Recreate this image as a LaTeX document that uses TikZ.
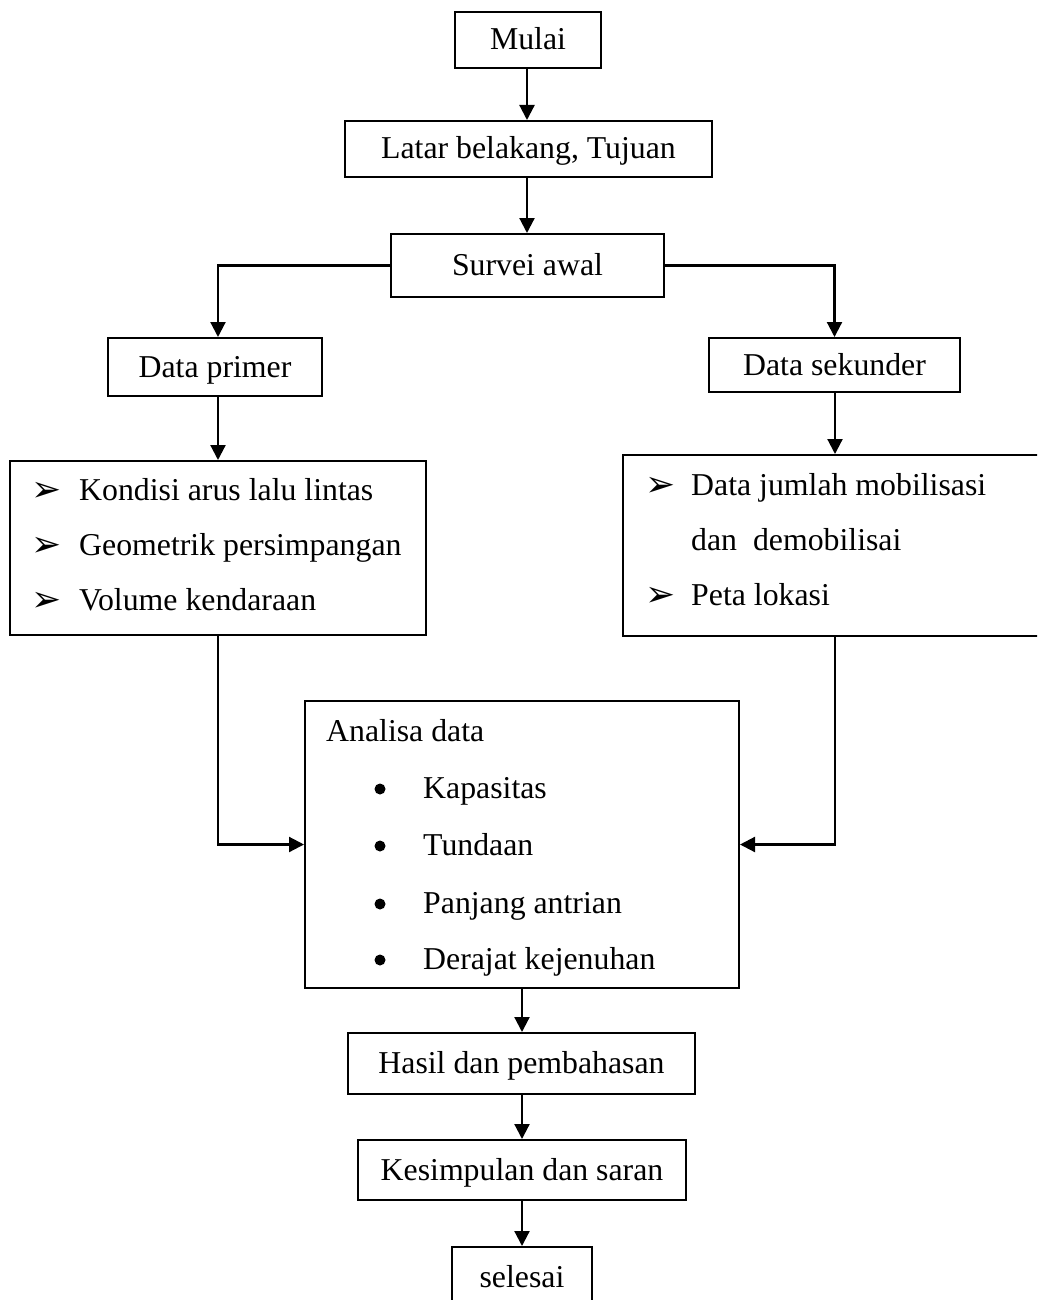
\documentclass[tikz,border=0pt]{standalone}
\usepackage{fontspec}
\setmainfont{Liberation Serif}
\newfontfamily\dingfont{DejaVu Sans}
\usetikzlibrary{arrows.meta}

\begin{document}
\begin{tikzpicture}[x=1pt, y=-1pt,
  every node/.style={font=\fontsize{31.8}{38}\selectfont},
  box/.style={draw, line width=2pt, inner sep=0pt, text height=22pt, text depth=2pt},
  frame/.style={draw, line width=2pt, inner sep=0pt},
  item/.style={anchor=base west, inner sep=0pt},
  pointer/.style={anchor=base west, inner sep=0pt, font=\dingfont\fontsize{36}{40}\selectfont},
  dotbullet/.style={circle, fill, inner sep=0pt, minimum size=11pt},
  flow/.style={line width=2.2pt, -{Triangle[length=15pt, width=15pt]}},
  link/.style={line width=2pt}
]
\clip (0,0) rectangle (1037,1300);

% main column
\node[box, minimum width=146pt, minimum height=56pt] (mulai)  at (528,40)    {Mulai};
\node[box, minimum width=367pt, minimum height=56pt] (latar)  at (528.5,149) {Latar belakang, Tujuan};
\node[box, minimum width=273pt, minimum height=63pt] (survei) at (527.5,265.5) {Survei awal};

% two data branches
\node[box, minimum width=214pt, minimum height=58pt] (primer)   at (215,367)   {Data primer};
\node[box, minimum width=251pt, minimum height=54pt] (sekunder) at (834.5,365) {Data sekunder};

% primary data list
\node[frame, minimum width=416pt, minimum height=174pt] (lbox) at (218,548) {};
\node[pointer] (lp1) at (31,501) {➢};
\node[item]    (lt1) at (79,500) {Kondisi arus lalu lintas};
\node[pointer] (lp2) at (31,556) {➢};
\node[item]    (lt2) at (79,555) {Geometrik persimpangan};
\node[pointer] (lp3) at (31,611) {➢};
\node[item]    (lt3) at (79,610) {Volume kendaraan};

% secondary data list
\node[frame, minimum width=424pt, minimum height=181pt] (rbox) at (835,545.5) {};
\node[pointer] (rp1) at (645,496) {➢};
\node[item]    (rt1) at (691,495) {Data jumlah mobilisasi};
\node[item]    (rt2) at (691,550) {dan\ \ demobilisai};
\node[pointer] (rp3) at (645,606) {➢};
\node[item]    (rt3) at (691,605) {Peta lokasi};

% analysis box
\node[frame, minimum width=434pt, minimum height=287pt] (analisa) at (522,844.5) {};
\node[item] (ajudul) at (326,741) {Analisa data};
\node[dotbullet] (ab1) at (380,789) {};
\node[item]      (at1) at (423,798) {Kapasitas};
\node[dotbullet] (ab2) at (380,846) {};
\node[item]      (at2) at (423,855) {Tundaan};
\node[dotbullet] (ab3) at (380,904) {};
\node[item]      (at3) at (423,913) {Panjang antrian};
\node[dotbullet] (ab4) at (380,960) {};
\node[item]      (at4) at (423,969) {Derajat kejenuhan};

% closing steps
\node[box, minimum width=347pt, minimum height=61pt] (hasil)      at (521.5,1063.5) {Hasil dan pembahasan};
\node[box, minimum width=328pt, minimum height=60pt] (kesimpulan) at (522,1170)     {Kesimpulan dan saran};
\node[box, minimum width=140pt, minimum height=60pt] (selesai)    at (522,1277)     {selesai};

% connectors
\draw[flow] (mulai.south -| 527,0) -- (latar.north -| 527,0);
\draw[flow] (latar.south -| 527,0) -- (survei.north -| 527,0);
\draw[flow] (survei.west) -| (primer.north -| lbox.north);
\draw[flow] (survei.east) -| (sekunder.north);
\draw[flow] (primer.south -| lbox.north) -- (lbox.north);
\draw[flow] (sekunder.south -| rbox.north) -- (rbox.north);
\draw[flow] (lbox.south) |- (analisa.west);
\draw[flow] (rbox.south) |- (analisa.east);
\draw[flow] (analisa.south) -- (hasil.north -| analisa.south);
\draw[flow] (hasil.south -| kesimpulan.north) -- (kesimpulan.north);
\draw[flow] (kesimpulan.south) -- (selesai.north);
\end{tikzpicture}
\end{document}
